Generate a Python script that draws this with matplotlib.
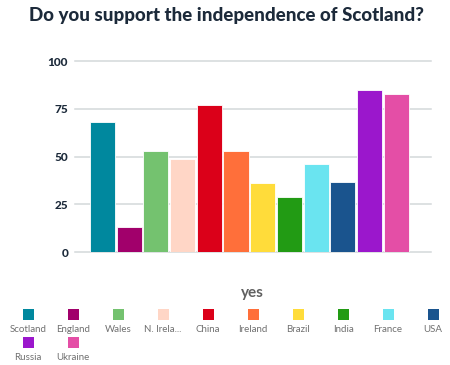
import matplotlib
matplotlib.use("Agg")
import matplotlib.pyplot as plt
from matplotlib.patches import Rectangle

countries = ["Scotland", "England", "Wales", "N. Irela...", "China", "Ireland",
             "Brazil", "India", "France", "USA", "Russia", "Ukraine"]
yes_values = [68, 13, 53, 49, 77, 53, 36, 29, 46, 37, 85, 83]
colors = ["#00889e", "#a1006b", "#74c26f", "#ffd6c6", "#db0019", "#ff6f3a",
          "#ffdc3a", "#229b14", "#6ae4f0", "#1a548e", "#9b17cc", "#e44ea6"]
yticks = [0, 25, 50, 75, 100]

plt.rcParams['font.family'] = ['Lato', 'DejaVu Sans']

fig = plt.figure(figsize=(4.5, 3.65), dpi=100)
ax = fig.add_axes([75/450, 1-252.3/365, 356/450, 191.3/365])

x = list(range(len(countries)))
ax.bar(x, yes_values, width=0.94, color=colors, edgecolor="white", linewidth=0.6, zorder=3)
ax.set_xlim(-1.03, 12.3)
ax.set_ylim(0, 100)
ax.set_yticks(yticks)
ax.set_yticklabels([str(t) for t in yticks], fontsize=8.5, fontweight="black", color="#1c2a3a")
ax.tick_params(axis="y", length=0, pad=5)
ax.set_xticks([])
for t in yticks:
    ax.axhline(t, color="#d3d8da", linewidth=1.1, zorder=1, clip_on=False)
for s in ax.spines.values():
    s.set_visible(False)

fig.text(0.503, 1-16/365, "Do you support the independence of Scotland?", ha="center", va="center",
         fontsize=13.5, fontweight="black", color="#1c2a3a")
fig.text(252/450, 1-293/365, "yes", ha="center", va="center", fontsize=11,
         fontweight="bold", color="#606060")

# legend
lax = fig.add_axes([0, 0, 1, 1])
lax.set_xlim(0, 450)
lax.set_ylim(365, 0)
lax.axis("off")
for i, (name, c) in enumerate(zip(countries, colors)):
    row, col = divmod(i, 10)
    cx = 28 + 45 * col
    cy = 314 + 28.5 * row
    lax.add_patch(Rectangle((cx - 5.5, cy - 5.5), 11, 11, facecolor=c, edgecolor="none"))
    lax.text(cx, cy + 15, name, ha="center", va="center", fontsize=7, color="#707070")

fig.savefig("out.png", dpi=100)
